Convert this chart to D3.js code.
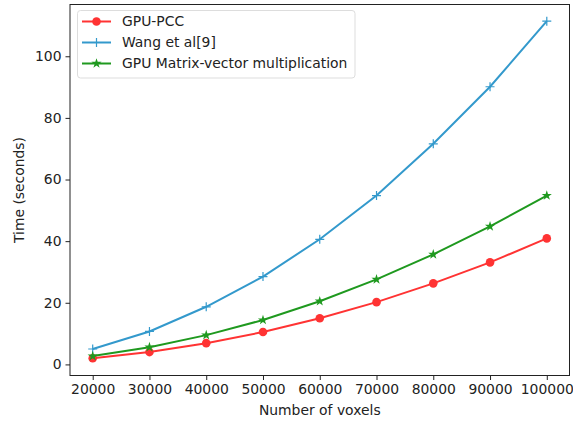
<!DOCTYPE html>
<html>
<head>
<meta charset="utf-8">
<script src="https://cdn.jsdelivr.net/npm/d3@7"></script>
<style>
  body { margin: 0; background: #fff; }
  text { font-family: "DejaVu Sans", sans-serif; fill: #222; }
</style>
</head>
<body>
<svg id="chart" width="573" height="423"></svg>
<script>
var voxels = [20000, 30000, 40000, 50000, 60000, 70000, 80000, 90000, 100000];
var gpuPcc = [2.0, 4.0, 6.9, 10.5, 15.0, 20.2, 26.3, 33.1, 40.9];
var wang = [5.0, 10.7, 18.7, 28.5, 40.6, 54.8, 71.6, 90.1, 111.4];
var gpuMv = [2.7, 5.6, 9.5, 14.4, 20.5, 27.6, 35.7, 44.8, 54.8];
var xTicks = [20000, 30000, 40000, 50000, 60000, 70000, 80000, 90000, 100000];
var yTicks = [0, 20, 40, 60, 80, 100];

var series = [
  { name: 'GPU-PCC', values: gpuPcc, color: '#ff3333', marker: 'circle' },
  { name: 'Wang et al[9]', values: wang, color: '#3399cc', marker: 'plus' },
  { name: 'GPU Matrix-vector multiplication', values: gpuMv, color: '#1f991f', marker: 'star' }
];

var fontSize = '13.9px';

// plot area edges (don't name it "top", that's window.top)
var plotLeft = 70, plotRight = 569.5, plotTop = 4.5, plotBottom = 375.5;

var svg = d3.select('#chart');

var x = d3.scaleLinear().domain([16000, 104000]).range([plotLeft, plotRight]);
var y = d3.scaleLinear().domain([-3.6, 116.8]).range([plotBottom, plotTop]);

// axes
var xAxis = svg.append('g')
  .attr('transform', 'translate(0,' + plotBottom + ')')
  .call(d3.axisBottom(x).tickValues(xTicks).tickSize(4.5).tickPadding(4).tickFormat(d3.format('d')));
var yAxis = svg.append('g')
  .attr('transform', 'translate(' + plotLeft + ',0)')
  .call(d3.axisLeft(y).tickValues(yTicks).tickSize(4.5).tickPadding(4).tickFormat(d3.format('d')));

[xAxis, yAxis].forEach(function(a) {
  a.select('.domain').remove();
  a.selectAll('line').attr('stroke', '#222').attr('stroke-width', 1);
  a.selectAll('text').style('font-size', fontSize).attr('fill', '#222').attr('font-family', 'DejaVu Sans');
});

// lines + markers
var line = d3.line()
  .x(function(d, i) { return x(voxels[i]); })
  .y(function(d) { return y(d); });

function drawMarker(g, type, color, cx, cy) {
  if (type === 'circle') {
    g.append('circle').attr('cx', cx).attr('cy', cy).attr('r', 4.3).attr('fill', color);
  } else if (type === 'plus') {
    g.append('path')
      .attr('d', 'M' + (cx - 4.5) + ',' + cy + 'H' + (cx + 4.5) + 'M' + cx + ',' + (cy - 4.5) + 'V' + (cy + 4.5))
      .attr('stroke', color).attr('stroke-width', 1.2);
  } else {
    g.append('path')
      .attr('d', d3.symbol(d3.symbolStar, 32)())
      .attr('transform', 'translate(' + cx + ',' + cy + ')')
      .attr('fill', color);
  }
}

series.forEach(function(s) {
  var g = svg.append('g');
  g.append('path')
    .datum(s.values)
    .attr('d', line)
    .attr('fill', 'none')
    .attr('stroke', s.color)
    .attr('stroke-width', 2);
  s.values.forEach(function(v, i) {
    drawMarker(g, s.marker, s.color, x(voxels[i]), y(v));
  });
});

// frame
svg.append('rect')
  .attr('x', plotLeft).attr('y', plotTop)
  .attr('width', plotRight - plotLeft).attr('height', plotBottom - plotTop)
  .attr('fill', 'none').attr('stroke', '#222').attr('stroke-width', 1);

// legend
var legend = svg.append('g');
legend.append('rect')
  .attr('x', 77.5).attr('y', 10.5).attr('width', 277.5).attr('height', 67.5)
  .attr('rx', 3).attr('fill', '#fff').attr('fill-opacity', 0.8)
  .attr('stroke', '#ddd');

series.forEach(function(s, i) {
  var cy = 21.5 + i * 21;
  legend.append('line')
    .attr('x1', 82).attr('x2', 111).attr('y1', cy).attr('y2', cy)
    .attr('stroke', s.color).attr('stroke-width', 2);
  drawMarker(legend, s.marker, s.color, 96.5, cy);
  legend.append('text')
    .attr('x', 122).attr('y', cy).attr('dy', '0.35em')
    .style('font-size', fontSize)
    .text(s.name);
});

// axis titles
svg.append('text')
  .attr('x', (plotLeft + plotRight) / 2).attr('y', 415)
  .attr('text-anchor', 'middle')
  .style('font-size', fontSize)
  .text('Number of voxels');

svg.append('text')
  .attr('transform', 'translate(24,' + ((plotTop + plotBottom) / 2) + ') rotate(-90)')
  .attr('text-anchor', 'middle')
  .style('font-size', fontSize)
  .text('Time (seconds)');
</script>
</body>
</html>
